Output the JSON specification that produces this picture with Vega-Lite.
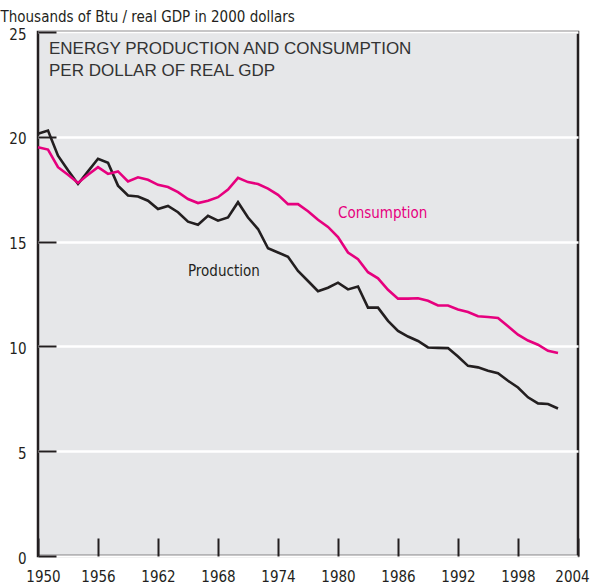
{
  "$schema": "https://vega.github.io/schema/vega-lite/v6.json",
  "width": 540,
  "height": 524,
  "autosize": {"type": "none"},
  "padding": {"left": 38, "top": 32, "right": 13, "bottom": 30},
  "background": "white",
  "config": {
    "view": {"fill": "#e6e7e9", "stroke": "#231f20", "strokeWidth": 2.5},
    "font": "DejaVu Sans Condensed, sans-serif"
  },
  "datasets": {
    "energy": [
      {"year": 1950, "series": "Production", "value": 20.15},
      {"year": 1951, "series": "Production", "value": 20.3},
      {"year": 1952, "series": "Production", "value": 19.1},
      {"year": 1953, "series": "Production", "value": 18.4},
      {"year": 1954, "series": "Production", "value": 17.75},
      {"year": 1955, "series": "Production", "value": 18.35},
      {"year": 1956, "series": "Production", "value": 18.95},
      {"year": 1957, "series": "Production", "value": 18.76},
      {"year": 1958, "series": "Production", "value": 17.67},
      {"year": 1959, "series": "Production", "value": 17.2},
      {"year": 1960, "series": "Production", "value": 17.15},
      {"year": 1961, "series": "Production", "value": 16.95},
      {"year": 1962, "series": "Production", "value": 16.55},
      {"year": 1963, "series": "Production", "value": 16.7},
      {"year": 1964, "series": "Production", "value": 16.4},
      {"year": 1965, "series": "Production", "value": 15.95},
      {"year": 1966, "series": "Production", "value": 15.8},
      {"year": 1967, "series": "Production", "value": 16.23},
      {"year": 1968, "series": "Production", "value": 16.0},
      {"year": 1969, "series": "Production", "value": 16.15},
      {"year": 1970, "series": "Production", "value": 16.88},
      {"year": 1971, "series": "Production", "value": 16.15},
      {"year": 1972, "series": "Production", "value": 15.6},
      {"year": 1973, "series": "Production", "value": 14.68},
      {"year": 1974, "series": "Production", "value": 14.48},
      {"year": 1975, "series": "Production", "value": 14.28},
      {"year": 1976, "series": "Production", "value": 13.6},
      {"year": 1977, "series": "Production", "value": 13.12},
      {"year": 1978, "series": "Production", "value": 12.63},
      {"year": 1979, "series": "Production", "value": 12.8},
      {"year": 1980, "series": "Production", "value": 13.04},
      {"year": 1981, "series": "Production", "value": 12.72},
      {"year": 1982, "series": "Production", "value": 12.86},
      {"year": 1983, "series": "Production", "value": 11.85},
      {"year": 1984, "series": "Production", "value": 11.85},
      {"year": 1985, "series": "Production", "value": 11.22},
      {"year": 1986, "series": "Production", "value": 10.74},
      {"year": 1987, "series": "Production", "value": 10.47},
      {"year": 1988, "series": "Production", "value": 10.26},
      {"year": 1989, "series": "Production", "value": 9.95},
      {"year": 1990, "series": "Production", "value": 9.93},
      {"year": 1991, "series": "Production", "value": 9.92},
      {"year": 1992, "series": "Production", "value": 9.52},
      {"year": 1993, "series": "Production", "value": 9.07},
      {"year": 1994, "series": "Production", "value": 9.0},
      {"year": 1995, "series": "Production", "value": 8.84},
      {"year": 1996, "series": "Production", "value": 8.72},
      {"year": 1997, "series": "Production", "value": 8.36},
      {"year": 1998, "series": "Production", "value": 8.04},
      {"year": 1999, "series": "Production", "value": 7.57},
      {"year": 2000, "series": "Production", "value": 7.28},
      {"year": 2001, "series": "Production", "value": 7.25},
      {"year": 2002, "series": "Production", "value": 7.04},
      {"year": 1950, "series": "Consumption", "value": 19.5},
      {"year": 1951, "series": "Consumption", "value": 19.39},
      {"year": 1952, "series": "Consumption", "value": 18.55},
      {"year": 1953, "series": "Consumption", "value": 18.19},
      {"year": 1954, "series": "Consumption", "value": 17.8},
      {"year": 1955, "series": "Consumption", "value": 18.19},
      {"year": 1956, "series": "Consumption", "value": 18.55},
      {"year": 1957, "series": "Consumption", "value": 18.23},
      {"year": 1958, "series": "Consumption", "value": 18.35},
      {"year": 1959, "series": "Consumption", "value": 17.87},
      {"year": 1960, "series": "Consumption", "value": 18.07},
      {"year": 1961, "series": "Consumption", "value": 17.95},
      {"year": 1962, "series": "Consumption", "value": 17.71},
      {"year": 1963, "series": "Consumption", "value": 17.6},
      {"year": 1964, "series": "Consumption", "value": 17.36},
      {"year": 1965, "series": "Consumption", "value": 17.03},
      {"year": 1966, "series": "Consumption", "value": 16.84},
      {"year": 1967, "series": "Consumption", "value": 16.95},
      {"year": 1968, "series": "Consumption", "value": 17.12},
      {"year": 1969, "series": "Consumption", "value": 17.48},
      {"year": 1970, "series": "Consumption", "value": 18.04},
      {"year": 1971, "series": "Consumption", "value": 17.84},
      {"year": 1972, "series": "Consumption", "value": 17.75},
      {"year": 1973, "series": "Consumption", "value": 17.53},
      {"year": 1974, "series": "Consumption", "value": 17.23},
      {"year": 1975, "series": "Consumption", "value": 16.79},
      {"year": 1976, "series": "Consumption", "value": 16.79},
      {"year": 1977, "series": "Consumption", "value": 16.45},
      {"year": 1978, "series": "Consumption", "value": 16.04},
      {"year": 1979, "series": "Consumption", "value": 15.7},
      {"year": 1980, "series": "Consumption", "value": 15.22},
      {"year": 1981, "series": "Consumption", "value": 14.48},
      {"year": 1982, "series": "Consumption", "value": 14.16},
      {"year": 1983, "series": "Consumption", "value": 13.54},
      {"year": 1984, "series": "Consumption", "value": 13.25},
      {"year": 1985, "series": "Consumption", "value": 12.7},
      {"year": 1986, "series": "Consumption", "value": 12.28},
      {"year": 1987, "series": "Consumption", "value": 12.28},
      {"year": 1988, "series": "Consumption", "value": 12.3},
      {"year": 1989, "series": "Consumption", "value": 12.18},
      {"year": 1990, "series": "Consumption", "value": 11.95},
      {"year": 1991, "series": "Consumption", "value": 11.95},
      {"year": 1992, "series": "Consumption", "value": 11.76},
      {"year": 1993, "series": "Consumption", "value": 11.64},
      {"year": 1994, "series": "Consumption", "value": 11.44},
      {"year": 1995, "series": "Consumption", "value": 11.4},
      {"year": 1996, "series": "Consumption", "value": 11.36},
      {"year": 1997, "series": "Consumption", "value": 10.96},
      {"year": 1998, "series": "Consumption", "value": 10.56},
      {"year": 1999, "series": "Consumption", "value": 10.28},
      {"year": 2000, "series": "Consumption", "value": 10.08},
      {"year": 2001, "series": "Consumption", "value": 9.79},
      {"year": 2002, "series": "Consumption", "value": 9.68}
    ],
    "labels": [
      {"series": "Consumption", "year": 1980.0, "value": 16.36},
      {"series": "Production", "year": 1965.0, "value": 13.6}
    ],
    "heading": [
      {"text": "ENERGY PRODUCTION AND CONSUMPTION\nPER DOLLAR OF REAL GDP", "year": 1951.1, "value": 24.2}
    ]
  },
  "layer": [
    {
      "data": {"name": "energy"},
      "mark": {"type": "line", "strokeWidth": 2.6, "strokeJoin": "miter"},
      "encoding": {
        "x": {
          "field": "year", "type": "quantitative",
          "scale": {"domain": [1950, 2004], "nice": false, "zero": false},
          "axis": {
            "title": null,
            "values": [1950, 1956, 1962, 1968, 1974, 1980, 1986, 1992, 1998, 2004],
            "format": "d",
            "grid": false,
            "domain": false,
            "tickSize": -18,
            "tickWidth": 2,
            "tickColor": "#231f20",
            "labelPadding": 31,
            "labelFontSize": 15,
            "labelColor": "#231f20",
            "labelFlush": false,
            "labelOffset": {
              "condition": [
                {"test": "datum.value == 1950", "value": 5},
                {"test": "datum.value == 2004", "value": -6}
              ],
              "value": 0
            }
          }
        },
        "y": {
          "field": "value", "type": "quantitative",
          "scale": {"domain": [0, 25], "nice": false},
          "axis": {
            "title": "Thousands of Btu / real GDP in 2000 dollars",
            "titleAngle": 0,
            "titleAlign": "left",
            "titleBaseline": "middle",
            "titleX": -38,
            "titleY": -16,
            "titleFontSize": 15,
            "titleFontWeight": "normal",
            "titleColor": "#231f20",
            "values": [0, 5, 10, 15, 20, 25],
            "grid": true,
            "gridColor": "white",
            "gridWidth": 2.5,
            "gridOpacity": 1,
            "domain": false,
            "tickSize": -18,
            "tickWidth": 2,
            "tickColor": "#231f20",
            "labelPadding": 30,
            "labelFontSize": 15,
            "labelColor": "#231f20",
            "labelFlush": false,
            "labelOffset": 2
          }
        },
        "color": {
          "field": "series", "type": "nominal",
          "scale": {"domain": ["Consumption", "Production"], "range": ["#e6007e", "#231f20"]},
          "legend": null
        }
      }
    },
    {
      "data": {"name": "labels"},
      "mark": {"type": "text", "align": "left", "baseline": "middle", "fontSize": 15},
      "encoding": {
        "x": {"field": "year", "type": "quantitative"},
        "y": {"field": "value", "type": "quantitative"},
        "text": {"field": "series"},
        "color": {
          "field": "series", "type": "nominal",
          "scale": {"domain": ["Consumption", "Production"], "range": ["#e6007e", "#231f20"]},
          "legend": null
        }
      }
    },
    {
      "data": {"name": "heading"},
      "transform": [{"calculate": "split(datum.text, '\\n')", "as": "lines"}],
      "mark": {"type": "text", "align": "left", "baseline": "middle", "fontSize": 17, "font": "Liberation Sans", "color": "#333333", "lineHeight": 22},
      "encoding": {
        "x": {"field": "year", "type": "quantitative"},
        "y": {"field": "value", "type": "quantitative"},
        "text": {"field": "lines"}
      }
    }
  ]
}
